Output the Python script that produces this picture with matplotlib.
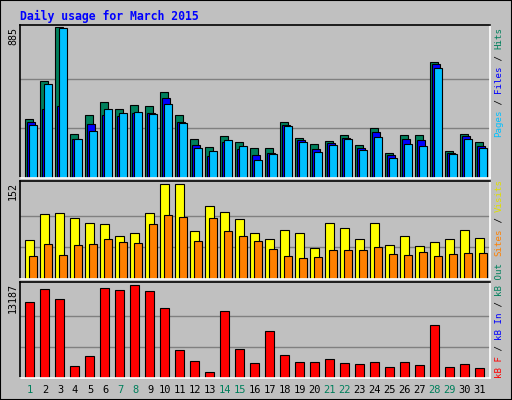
import matplotlib
matplotlib.use("Agg")
import matplotlib.pyplot as plt
from matplotlib.patches import Rectangle

days = list(range(1, 32))
hits = [348, 571, 885, 257, 372, 445, 408, 427, 420, 507, 372, 227, 183, 245, 209, 179, 179, 330, 233, 197, 215, 251, 191, 294, 149, 251, 251, 680, 161, 257, 209]
files = [330, 408, 420, 227, 318, 372, 366, 384, 384, 469, 330, 191, 131, 209, 173, 137, 149, 312, 221, 173, 203, 233, 179, 269, 137, 227, 221, 668, 149, 245, 185]
pages = [312, 553, 879, 227, 275, 408, 384, 390, 378, 432, 324, 179, 161, 221, 185, 107, 143, 306, 209, 155, 191, 227, 167, 239, 119, 197, 185, 644, 143, 227, 179]
visits = [63, 104, 106, 97, 89, 88, 69, 74, 106, 152, 152, 76, 117, 107, 96, 74, 64, 79, 74, 50, 89, 81, 64, 89, 55, 69, 53, 59, 64, 79, 66]
sites = [36, 56, 38, 55, 56, 64, 59, 58, 88, 102, 99, 61, 97, 76, 68, 61, 48, 36, 33, 35, 46, 46, 46, 51, 40, 38, 43, 36, 40, 41, 41]
kbytes = [10723, 12606, 11157, 1739, 3043, 12751, 12461, 13187, 12317, 9853, 3912, 2463, 869, 9419, 4057, 2174, 6665, 3188, 2318, 2318, 2753, 2174, 2029, 2318, 1594, 2318, 1884, 7535, 1594, 2029, 1449]
weekend = [1, 7, 8, 14, 15, 21, 22, 28, 29]

BG = "#c0c0c0"
W, H = 512, 400
fig = plt.figure(figsize=(5.12, 4.0), dpi=100, facecolor=BG)
fig.patches.append(Rectangle((0, 0), 1, 1, transform=fig.transFigure, fill=False, ec="black", lw=1.5))
MONO = "DejaVu Sans Mono"

def ax_at(top, bottom):
    a = fig.add_axes([20 / W, 1 - bottom / H, 470 / W, (bottom - top) / H])
    a.set_facecolor(BG)
    a.set_xlim(0.33, 31.67)
    a.set_xticks([]); a.set_yticks([])
    for s in ["top", "left"]:
        a.spines[s].set_color("black")
    for s in ["bottom", "right"]:
        a.spines[s].set_color("white")
    for s in a.spines.values():
        s.set_linewidth(1.2)
    return a

def grid(a, m):
    for f in (1 / 3, 2 / 3):
        a.axhline(m * f, color="#808080", lw=1, zorder=0)

ek = dict(edgecolor="black", linewidth=0.8, align="edge")
a1 = ax_at(25, 178)
a1.set_ylim(0, 885 * 1.015)
grid(a1, 885 * 0.99)
a1.bar([d - 0.31 for d in days], hits, 0.49, color="#00805c", **ek)
a1.bar([d - 0.18 for d in days], files, 0.49, color="#0000ff", **ek)
a1.bar([d - 0.05 for d in days], pages, 0.49, color="#00c0ff", **ek)

a2 = ax_at(181, 279)
a2.set_ylim(0, 152 * 1.03)
grid(a2, 152 * 1.0)
a2.bar([d - 0.31 for d in days], visits, 0.55, color="#ffff00", **ek)
a2.bar([d - 0.04 for d in days], sites, 0.5, color="#ff8000", **ek)

a3 = ax_at(282, 378)
a3.set_ylim(0, 13187 * 1.03)
grid(a3, 13187)
a3.bar([d - 0.31 for d in days], kbytes, 0.55, color="#ff0000", **ek)

# day labels
for d in days:
    x = 20 + (d - 0.33 + 0.0) / (31.67 - 0.33) * 470
    fig.text(x / W, 1 - 390 / H, str(d), ha="center", va="center", family=MONO,
             fontsize=7.5, color="#00805c" if d in weekend else "black")

fig.text(20 / W, 1 - 16 / H, "Daily usage for March 2015", family=MONO, fontsize=8.3,
         weight="bold", color="#0000ff", ha="left", va="center")

for lab, top in [("885", 27), ("152", 182), ("13187", 283)]:
    fig.text(13 / W, 1 - top / H, lab, rotation=90, ha="center", va="top", family=MONO, fontsize=7.2)

CW = 5.5  # px per char
FS = 6.6
def vlabel(pieces, ystart_bottom):
    y = ystart_bottom
    for txt, col in pieces:
        fig.text(499 / W, 1 - y / H, txt, rotation=90, ha="center", va="bottom",
                 family=MONO, fontsize=FS, color=col)
        y -= len(txt) * CW

def vlabel_top(pieces, ytop):
    total = sum(len(t) for t, _ in pieces) * CW
    vlabel(pieces, ytop + total)

vlabel_top([("Pages", "#00c0ff"), (" / ", "black"), ("Files", "#0000ff"), (" / ", "black"), ("Hits", "#00805c")], 27)
vlabel_top([("Sites", "#ff8000"), (" / ", "black"), ("Visits", "#e0e000")], 179)
vlabel([("kB F", "#ff0000"), (" / ", "black"), ("kB In", "#0000ff"), (" / ", "black"), ("kB Out", "#00805c")], 378)

fig.savefig("out.png", dpi=100, facecolor=BG)
